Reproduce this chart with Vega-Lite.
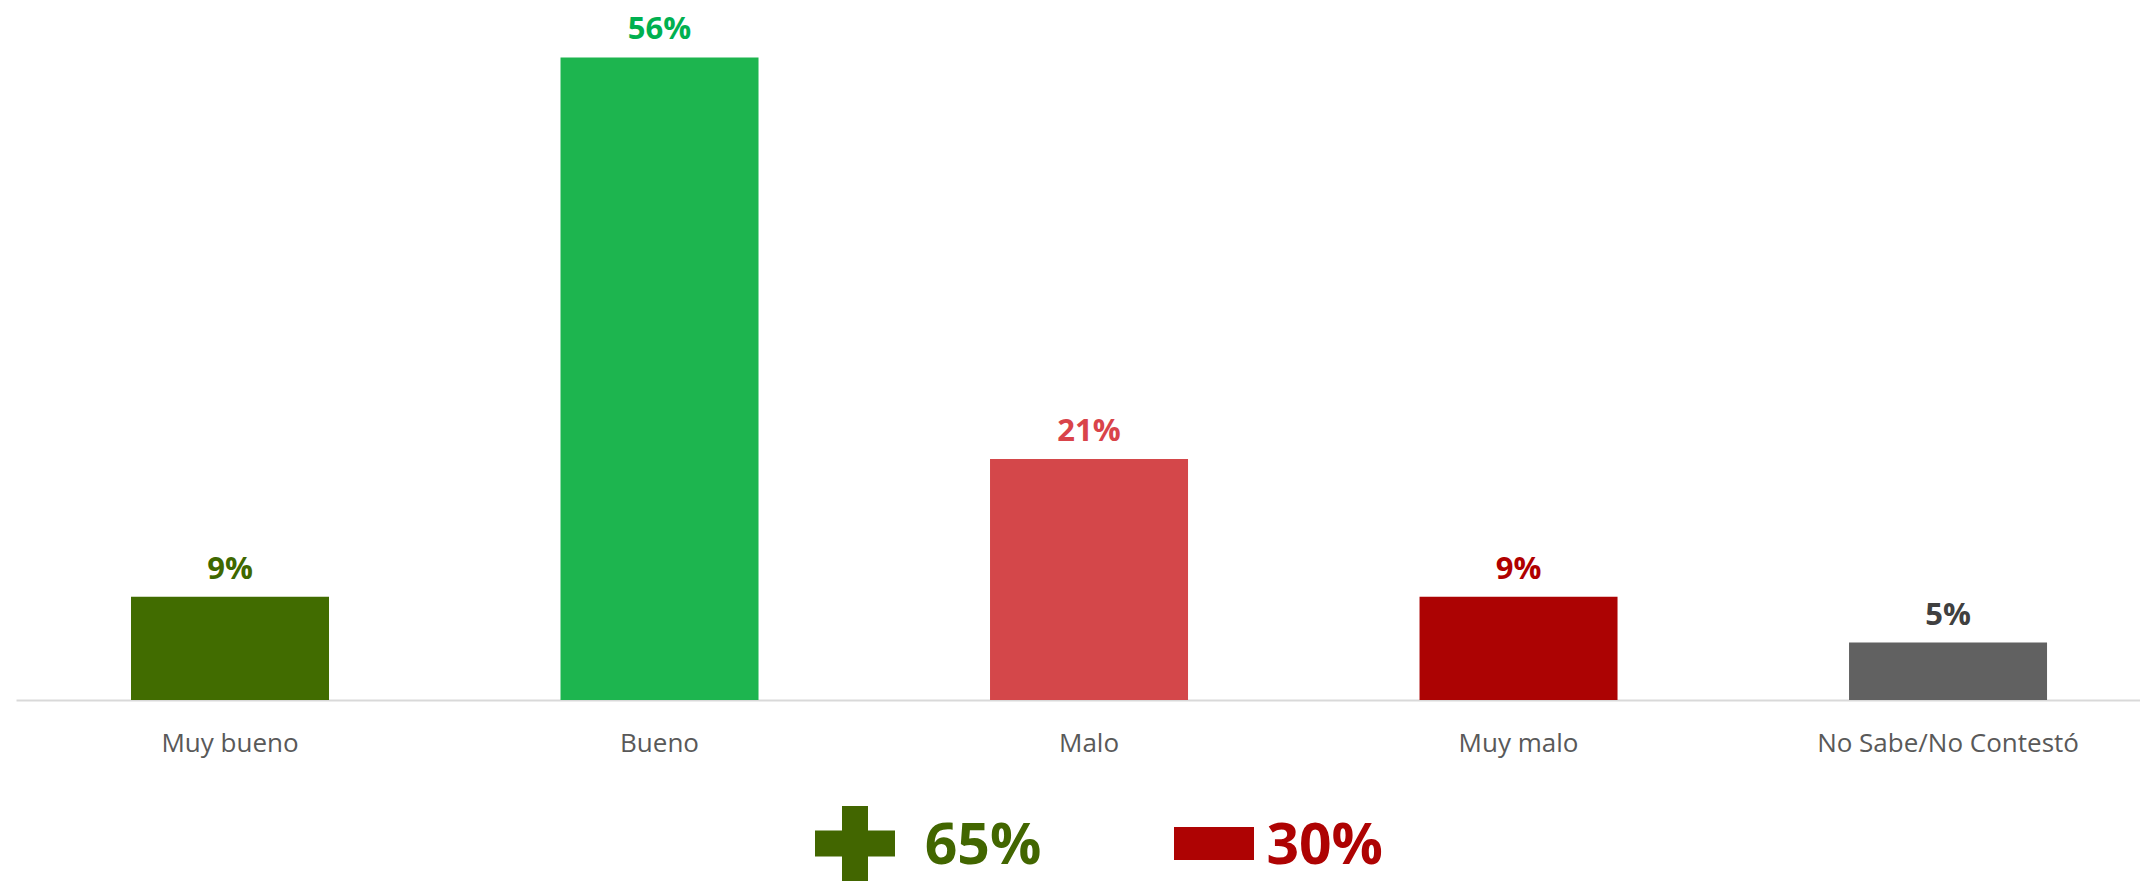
{
  "$schema": "https://vega.github.io/schema/vega-lite/v6.json",
  "padding": {"left": 16, "top": 0, "right": 0, "bottom": 0},
  "background": "white",
  "config": {"view": {"stroke": null}, "font": "Open Sans"},
  "spacing": 50,
  "center": true,
  "vconcat": [
    {
      "width": 2124,
      "height": 700,
      "data": {
        "values": [
          {"categoria": "Muy bueno", "valor": 0.09},
          {"categoria": "Bueno", "valor": 0.56},
          {"categoria": "Malo", "valor": 0.21},
          {"categoria": "Muy malo", "valor": 0.09},
          {"categoria": "No Sabe/No Contestó", "valor": 0.05}
        ]
      },
      "encoding": {
        "x": {
          "field": "categoria",
          "type": "nominal",
          "sort": null,
          "scale": {"paddingInner": 0.539, "paddingOuter": 0.2421, "align": 0.553},
          "axis": {
            "title": null,
            "labelAngle": 0,
            "ticks": false,
            "grid": false,
            "domainColor": "#d9d9d9",
            "domainWidth": 2,
            "labelColor": "#595959",
            "labelFontSize": 26,
            "labelFont": "Open Sans",
            "labelPadding": 30,
            "labelLimit": 500
          }
        },
        "y": {
          "field": "valor",
          "type": "quantitative",
          "scale": {"domain": [0, 0.61]},
          "axis": null
        }
      },
      "layer": [
        {
          "mark": {"type": "bar"},
          "encoding": {
            "color": {
              "field": "categoria",
              "type": "nominal",
              "scale": {
                "domain": ["Muy bueno", "Bueno", "Malo", "Muy malo", "No Sabe/No Contestó"],
                "range": ["#416c00", "#1db54f", "#d4474a", "#ac0303", "#616161"]
              },
              "legend": null
            }
          }
        },
        {
          "mark": {"type": "text", "baseline": "alphabetic", "dy": -18, "fontSize": 31, "fontWeight": "bold", "font": "Open Sans"},
          "encoding": {
            "text": {"field": "valor", "type": "quantitative", "format": ".0%"},
            "color": {
              "field": "categoria",
              "type": "nominal",
              "scale": {
                "domain": ["Muy bueno", "Bueno", "Malo", "Muy malo", "No Sabe/No Contestó"],
                "range": ["#3f6800", "#00b050", "#d9444a", "#b00000", "#404040"]
              },
              "legend": null
            }
          }
        }
      ],
      "resolve": {"scale": {"color": "independent"}}
    },
    {
      "width": 1025,
      "height": 75,
      "data": {
        "values": [
          {"grupo": "Positivo", "valor": 0.65},
          {"grupo": "Negativo", "valor": 0.30}
        ]
      },
      "layer": [
        {
          "mark": {"type": "point", "filled": true, "opacity": 1, "strokeWidth": 0, "size": 6400, "clip": true},
          "encoding": {
            "x": {
              "field": "grupo",
              "type": "nominal",
              "scale": {"type": "point", "domain": ["Positivo", "Negativo"], "padding": 0.9276, "align": 0.4347},
              "axis": null
            },
            "shape": {
              "field": "grupo",
              "type": "nominal",
              "scale": {
                "domain": ["Positivo", "Negativo"],
                "range": [
                  "M-0.325,-1H0.325V-0.325H1V0.325H0.325V1H-0.325V0.325H-1V-0.325H-0.325Z",
                  "M-1,-0.4125H1V0.4125H-1Z"
                ]
              },
              "legend": null
            },
            "color": {
              "field": "grupo",
              "type": "nominal",
              "scale": {"domain": ["Positivo", "Negativo"], "range": ["#426600", "#ae0303"]},
              "legend": null
            }
          }
        },
        {
          "mark": {"type": "text", "baseline": "alphabetic", "dy": 20, "fontSize": 57, "fontWeight": "bold", "font": "Open Sans", "clip": true},
          "encoding": {
            "x": {
              "field": "grupo",
              "type": "nominal",
              "scale": {"type": "point", "domain": ["Positivo", "Negativo"], "padding": 1, "align": 0.611},
              "axis": null
            },
            "text": {"field": "valor", "type": "quantitative", "format": ".0%"},
            "color": {
              "field": "grupo",
              "type": "nominal",
              "scale": {"domain": ["Positivo", "Negativo"], "range": ["#426600", "#ae0303"]},
              "legend": null
            }
          }
        }
      ],
      "resolve": {"scale": {"x": "independent"}}
    }
  ]
}
